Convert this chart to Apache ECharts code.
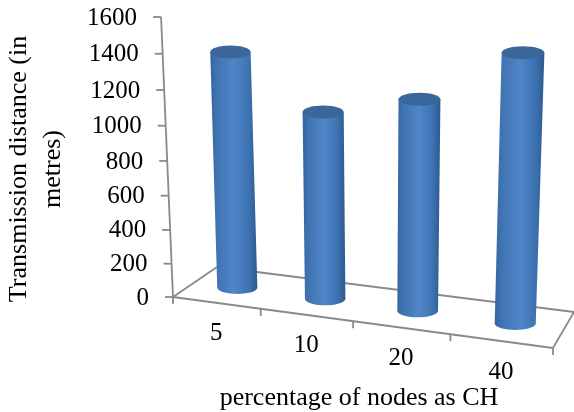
<!DOCTYPE html>
<html>
<head>
<meta charset="utf-8">
<title>Transmission distance</title>
<script src="https://cdn.jsdelivr.net/npm/echarts@6/dist/echarts.min.js"></script>
<style>
  html, body { margin: 0; padding: 0; background: #fff; }
  #main { width: 574px; height: 412px; }
</style>
</head>
<body>
<div id="main"></div>
<script>
var categories = ['5', '10', '20', '40'];
var distances = [1340, 1045, 1145, 1410];
var yTicks = [0, 200, 400, 600, 800, 1000, 1200, 1400, 1600];
var yTitle = 'Transmission distance (in\nmetres)';
var xTitle = 'percentage of nodes as CH';

var font = '"Liberation Serif", "Times New Roman", serif';
var gridBox = { left: 173, top: 40, width: 372, height: 258, outerBoundsMode: 'none' };
var axisColor = '#8a8a8a';

// corners of the tilted floor, the chart was a 3D one
var floorA = [173, 297], floorB = [553, 348], floorC = [217, 267], floorD = [574, 312];

function lerp(p, q, k) {
  return [p[0] + (q[0] - p[0]) * k, p[1] + (q[1] - p[1]) * k];
}

// u: 0-1 across the categories, t: 0-1 up the value axis, d: 0 front, 1 back
function project(u, t, d) {
  var w = u / (u + 1.11 * (1 - u));
  var base = lerp(lerp(floorA, floorB, w), lerp(floorC, floorD, w), d);
  var up = (280 + 34 * w) * (t / (t + 1.058 * (1 - t)));
  return [base[0] + (base[0] - 376) * 0.00021 * up, base[1] - up, w];
}

// turn the pixel from the grid scale into the projected one
function fromCoord(api, idx, value, d, shift) {
  var p = api.coord([idx, value]);
  var u = (p[0] + (shift || 0) - gridBox.left) / gridBox.width;
  var t = (gridBox.top + gridBox.height - p[1]) / gridBox.height;
  return project(u, t, d);
}

function line(p, q) {
  return {
    type: 'line',
    shape: { x1: p[0], y1: p[1], x2: q[0], y2: q[1] },
    style: { stroke: axisColor, lineWidth: 1.8 }
  };
}

function label(text, x, y, align) {
  return {
    type: 'text',
    style: {
      text: text, x: x, y: y, fill: '#000',
      font: '25px ' + font,
      textAlign: align, textVerticalAlign: 'middle'
    }
  };
}

function renderFloor(params, api) {
  var band = api.size([1, 0])[0];
  var fl = fromCoord(api, 0, 0, 0, -band / 2);
  var fr = fromCoord(api, 3, 0, 0, band / 2);
  var bl = fromCoord(api, 0, 0, 1, -band / 2);
  var br = fromCoord(api, 3, 0, 1, band / 2);
  var top = fromCoord(api, 0, 1600, 0, -band / 2);
  return {
    type: 'group',
    children: [line(fl, top), line(fl, fr), line(bl, br), line(fl, bl), line(fr, br)]
  };
}

function renderYTick(params, api) {
  var band = api.size([1, 0])[0];
  var p = fromCoord(api, 0, api.value(1), 0, -band / 2);
  return {
    type: 'group',
    children: [
      line([p[0] - 8, p[1]], p),
      label(String(api.value(1)), p[0] - 24, p[1] + 1, 'right')
    ]
  };
}

function renderXTick(params, api) {
  var idx = api.value(0);
  var band = api.size([1, 0])[0];
  var p = fromCoord(api, idx, 0, 0, -band / 2);
  var mid = fromCoord(api, idx, 0, 0);
  var kids = [
    line(p, [p[0], p[1] + 7]),
    label(categories[idx], mid[0], mid[1] + 31, 'center')
  ];
  if (idx === categories.length - 1) {
    var end = fromCoord(api, idx, 0, 0, band / 2);
    kids.push(line(end, [end[0], end[1] + 7]));
  }
  return { type: 'group', children: kids };
}

function renderBar(params, api) {
  var idx = api.value(0);
  var rx = api.size([1, 0])[0] * 0.215;
  var base = fromCoord(api, idx, 0, 0.5);
  var top = fromCoord(api, idx, api.value(1), 0.5);
  var nudge = 2.5 * base[2];
  var rxBase = rx * (1 + 0.03 * base[2]);
  var rxTop = rx * (1 + 0.08 * base[2]);
  var ry = 6.5;
  var pts = [[top[0] + nudge - rxTop, top[1]]];
  // lower rim of the cylinder
  for (var a = 180; a >= 0; a -= 10) {
    var r = a * Math.PI / 180;
    pts.push([base[0] + nudge + rxBase * Math.cos(r), base[1] + ry * Math.sin(r)]);
  }
  pts.push([top[0] + nudge + rxTop, top[1]]);
  return {
    type: 'group',
    children: [
      {
        type: 'polygon',
        shape: { points: pts },
        style: {
          fill: new echarts.graphic.LinearGradient(0, 0, 1, 0, [
            { offset: 0, color: '#35659f' },
            { offset: 0.12, color: '#3f72b0' },
            { offset: 0.5, color: '#5085c8' },
            { offset: 0.8, color: '#3f74b4' },
            { offset: 1, color: '#2c5a8f' }
          ])
        }
      },
      {
        type: 'ellipse',
        shape: { cx: top[0] + nudge, cy: top[1], rx: rxTop, ry: ry },
        style: { fill: '#3a6799' }
      }
    ]
  };
}

var myChart = echarts.init(document.getElementById('main'), null, { renderer: 'canvas' });

myChart.setOption({
  animation: false,
  backgroundColor: '#fff',
  grid: gridBox,
  xAxis: {
    type: 'category',
    data: categories,
    name: xTitle,
    nameLocation: 'middle',
    nameGap: 87,
    nameTextStyle: { fontFamily: font, fontSize: 26, color: '#000' },
    axisLine: { show: false },
    axisTick: { show: false },
    axisLabel: { show: false }
  },
  yAxis: {
    type: 'value',
    min: 0,
    max: 1600,
    interval: 200,
    name: yTitle,
    nameLocation: 'middle',
    nameRotate: 90,
    nameGap: 103,
    nameTextStyle: { fontFamily: font, fontSize: 26, lineHeight: 34, color: '#000' },
    axisLine: { show: false },
    axisTick: { show: false },
    axisLabel: { show: false },
    splitLine: { show: false }
  },
  series: [
    {
      type: 'custom', name: 'floor', silent: true, clip: false,
      renderItem: renderFloor,
      data: [[0, 0]]
    },
    {
      type: 'custom', name: 'y ticks', silent: true, clip: false,
      renderItem: renderYTick,
      data: yTicks.map(function (v) { return [0, v]; })
    },
    {
      type: 'custom', name: 'x ticks', silent: true, clip: false,
      renderItem: renderXTick,
      data: categories.map(function (c, i) { return [i, 0]; })
    },
    {
      type: 'custom', name: 'distance', clip: false,
      renderItem: renderBar,
      data: distances.map(function (v, i) { return [i, v]; })
    }
  ]
});
</script>
</body>
</html>
